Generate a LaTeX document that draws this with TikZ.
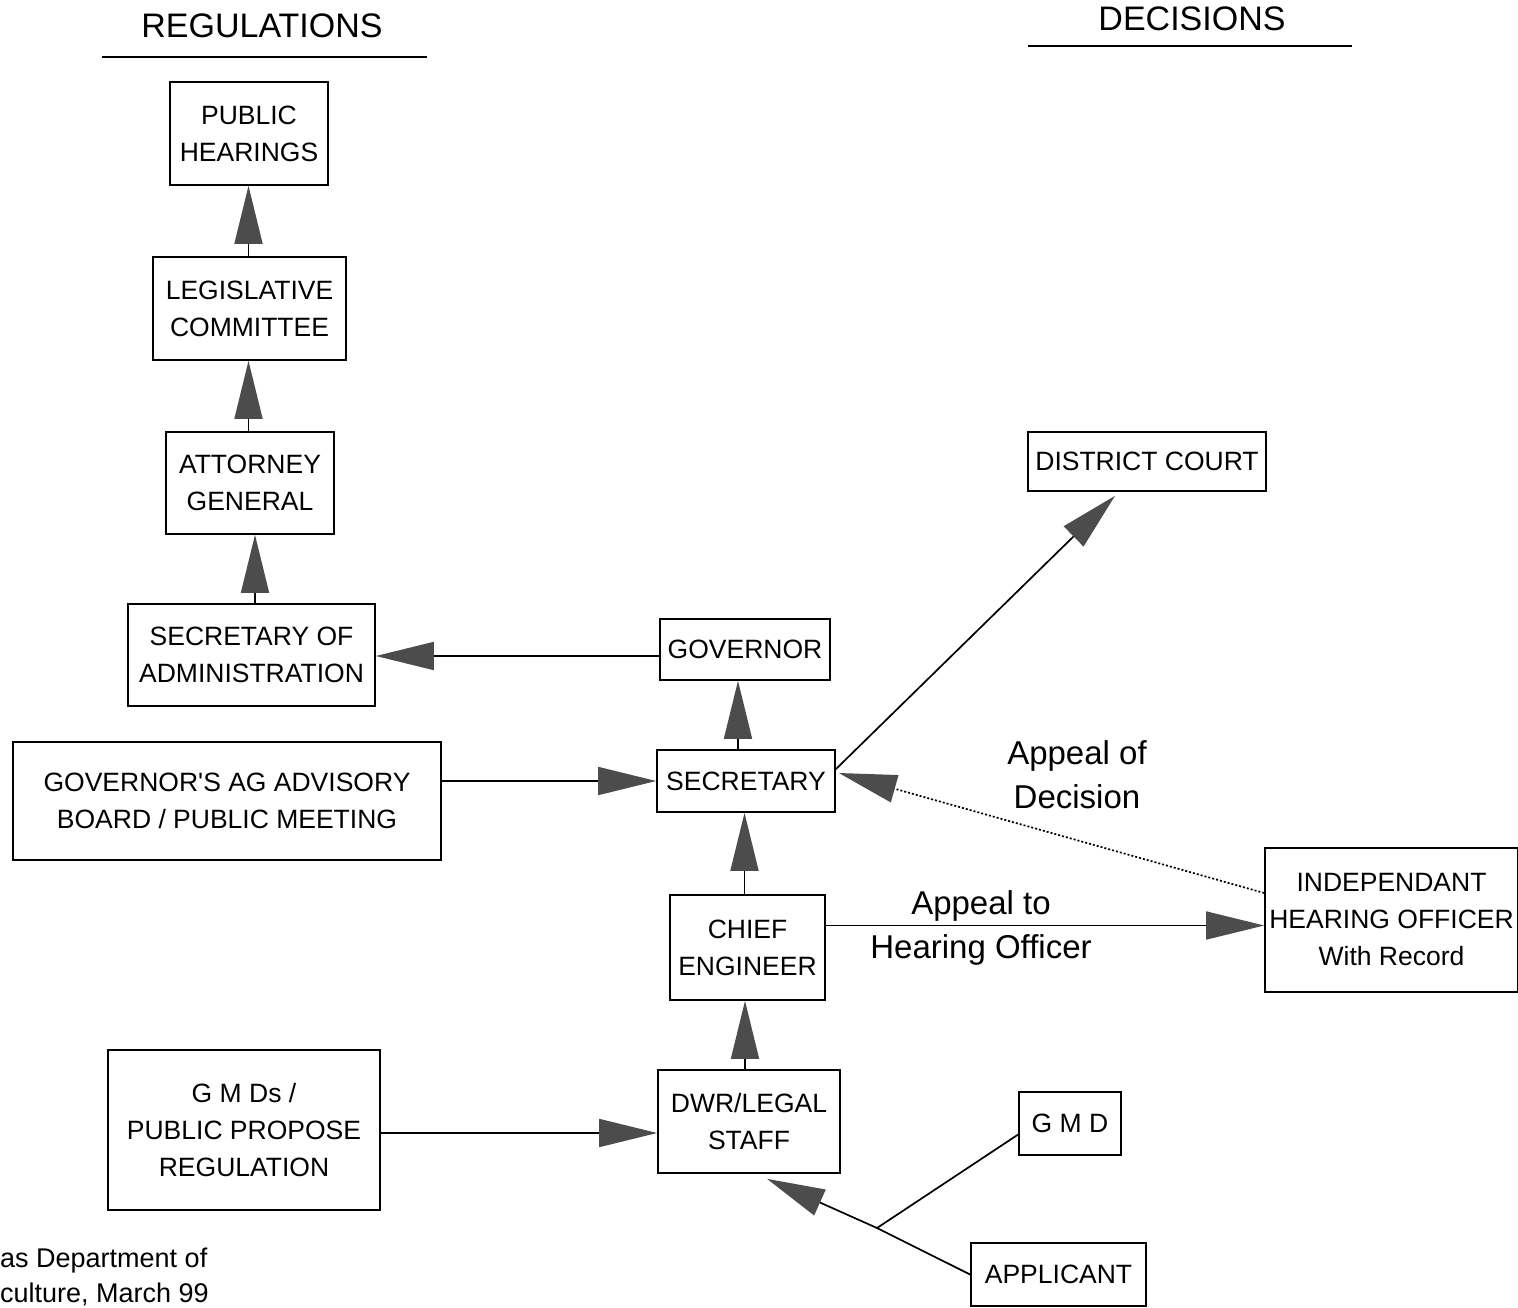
\documentclass[tikz,border=0pt]{standalone}
\usepackage{fontspec}
\setmainfont{Liberation Sans}
\usetikzlibrary{arrows.meta}
\definecolor{arrgray}{gray}{0.3}
\tikzset{
  box/.style={draw, line width=1.7pt, inner sep=0pt, align=center, font=\fontsize{26.5}{37}\selectfont},
  arr/.style={line width=1.7pt, -{Triangle[length=58pt,width=28pt,color=arrgray]}},
  plain/.style={line width=1.7pt},
  hdr/.style={font=\fontsize{34}{40}\selectfont, inner sep=0pt},
  lbl/.style={font=\fontsize{33}{44}\selectfont, align=center, inner sep=0pt},
  foot/.style={font=\fontsize{27}{35}\selectfont, align=left, inner sep=0pt, anchor=north west}
}
\begin{document}
\begin{tikzpicture}[x=1pt,y=-1pt]
\useasboundingbox[fill=white] (0,0) rectangle (1518,1308);
% headers
\node[hdr] (hreg) at (262,26) {REGULATIONS};
\node[hdr] (hdec) at (1192,19) {DECISIONS};
\draw[plain] (102,57) -- (427,57);
\draw[plain] (1028,46) -- (1352,46);
% boxes
\node[box, minimum width=158, minimum height=103] (ph) at (249,133.5) {PUBLIC\\HEARINGS};
\node[box, minimum width=193, minimum height=103] (leg) at (249.5,308.5) {LEGISLATIVE\\COMMITTEE};
\node[box, minimum width=168, minimum height=102] (ag) at (250,483) {ATTORNEY\\GENERAL};
\node[box, minimum width=247, minimum height=102] (sadm) at (251.5,655) {SECRETARY OF\\ADMINISTRATION};
\node[box, minimum width=170, minimum height=61] (gov) at (745,649.5) {GOVERNOR};
\node[box, minimum width=428, minimum height=118] (board) at (227,801) {GOVERNOR\textquotesingle S AG ADVISORY\\BOARD / PUBLIC MEETING};
\node[box, minimum width=178, minimum height=62] (sec) at (746,781) {SECRETARY};
\node[box, minimum width=155, minimum height=105] (chief) at (747.5,947.5) {CHIEF\\ENGINEER};
\node[box, minimum width=253, minimum height=144] (ind) at (1391.5,920) {INDEPENDANT\\HEARING OFFICER\\With Record};
\node[box, minimum width=238, minimum height=59] (dc) at (1147,461.5) {DISTRICT COURT};
\node[box, minimum width=272, minimum height=160] (gmds) at (244,1130) {G M Ds /\\PUBLIC PROPOSE\\REGULATION};
\node[box, minimum width=182, minimum height=103] (dwr) at (749,1121.5) {DWR/LEGAL\\STAFF};
\node[box, minimum width=102, minimum height=63] (gmd) at (1070,1123.5) {G M D};
\node[box, minimum width=175, minimum height=63] (app) at (1058.5,1274.5) {APPLICANT};
% labels
\node[lbl] (lapd) at (1077,775) {Appeal of\\Decision};
\node[lbl] (laph) at (981,928) {Appeal to\\Hearing Officer};
% footer
\node[foot] (foot) at (0,1248) {as Department of\\culture, March 99};
% connectors
\draw[arr] ([xshift=-1pt]leg.north) -- ([xshift=-1pt]leg.north |- ph.south);
\draw[arr] ([xshift=-1.5pt]ag.north) -- ([xshift=-1.5pt]ag.north |- leg.south);
\draw[arr] ([xshift=3.5pt]sadm.north) -- ([xshift=3.5pt]sadm.north |- ag.south);
\draw[arr] ([yshift=-6.5pt]gov.west) -- ([yshift=-6.5pt]gov.west -| sadm.east);
\draw[arr] ([xshift=-8pt]sec.north) -- ([xshift=-8pt]sec.north |- gov.south);
\draw[arr] (board.east |- sec.west) -- (sec.west);
\draw[arr] ([xshift=-3pt]chief.north) -- ([xshift=-3pt]chief.north |- sec.south);
\draw[arr] ([xshift=-4pt]dwr.north) -- ([xshift=-4pt]dwr.north |- chief.south);
\draw[arr] (gmds.east |- 0,1133) -- (dwr.west |- 0,1133);
\draw[arr] ([yshift=-20pt]sec.north east) -- ([xshift=-32pt,yshift=-4pt]dc.south);
\draw[arr, dash pattern=on 2pt off 2pt] ([yshift=27pt]ind.west) -- ([xshift=3pt,yshift=8pt]sec.east);
\draw[arr] ([yshift=22pt]chief.east) -- ([yshift=22pt]chief.east -| ind.west);
\coordinate (j) at (877,1228);
\draw[plain] ([yshift=-11pt]gmd.west) -- (j) -- (app.west);
\draw[arr] (j) -- ([xshift=18pt,yshift=-5pt]dwr.south);
\end{tikzpicture}
\end{document}
